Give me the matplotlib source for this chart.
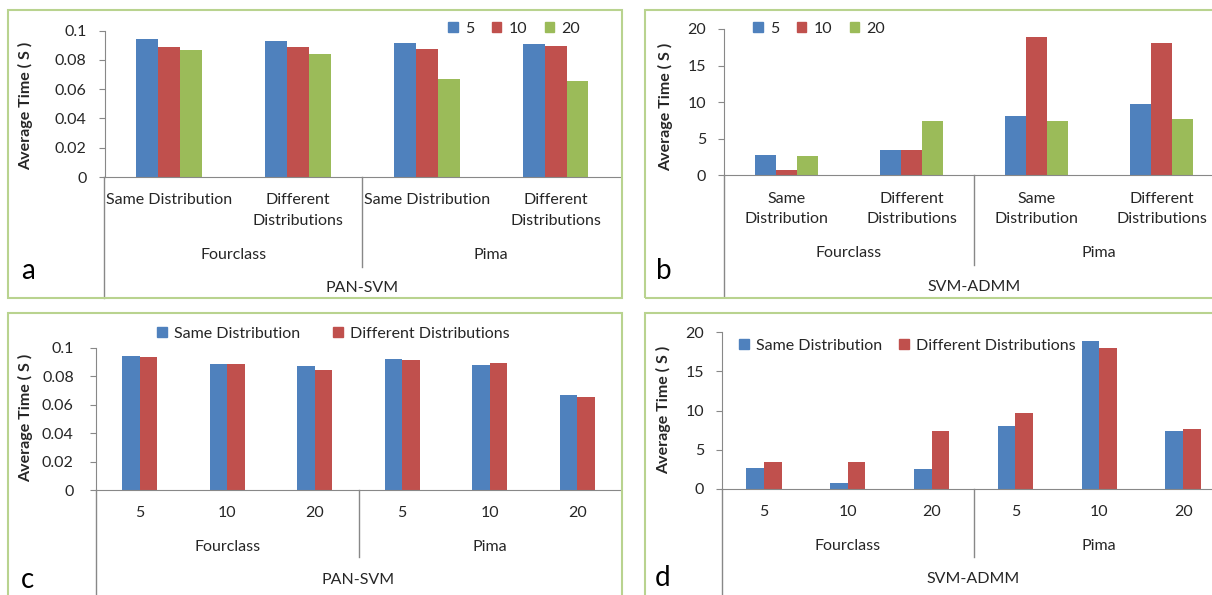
import matplotlib
matplotlib.use("Agg")
import matplotlib.pyplot as plt
from matplotlib.patches import Patch, Rectangle

plt.rcParams["font.family"] = ["Lato", "DejaVu Sans"]

# ─── DATA ─────────────────────────────────────────────────────────────────────
DATASETS = ["Fourclass", "Pima"]
SIZES = ["5", "10", "20"]
DISTS = ["Same Distribution", "Different Distributions"]

# PAN-SVM average time (s), per dataset, per number of nodes (5, 10, 20)
PAN_SAME_FOURCLASS = [0.0940, 0.0886, 0.0868]
PAN_DIFF_FOURCLASS = [0.0932, 0.0886, 0.0843]
PAN_SAME_PIMA = [0.0919, 0.0877, 0.0671]
PAN_DIFF_PIMA = [0.0912, 0.0895, 0.0656]

# SVM-ADMM average time (s)
ADMM_SAME_FOURCLASS = [2.70, 0.70, 2.55]
ADMM_DIFF_FOURCLASS = [3.40, 3.40, 7.40]
ADMM_SAME_PIMA = [8.05, 18.90, 7.40]
ADMM_DIFF_PIMA = [9.70, 18.05, 7.65]

# ─── STYLE ────────────────────────────────────────────────────────────────────
W, H = 1212, 595
BLUE, RED, GREEN = "#4F81BD", "#C0504D", "#9BBB59"
AXIS_GRAY = "#888888"
BORDER = "#B9D38F"
TXT = "#262626"
FS = 11.5


def px_rect(left, top, right, bottom):
    return [left / W, 1 - bottom / H, (right - left) / W, (bottom - top) / H]


def fx(x):
    return x / W


def fy(y):
    return 1 - y / H


def draw_panel(fig, rect, groups, series, colors, width, ymax, yticks, labels,
               sep_at, offs, method, letter, letter_xy, ylab_xy, legend):
    """groups: list of (dataset, label); series: list of value lists."""
    ax = fig.add_axes(px_rect(*rect))
    n = len(groups)
    k = len(series)
    xs = list(range(n))
    for i, (vals, col) in enumerate(zip(series, colors)):
        pos = [x + (i - (k - 1) / 2) * width for x in xs]
        ax.bar(pos, vals, width=width, color=col, edgecolor="none", label=labels[i])
    ax.set_xlim(-0.5, n - 0.5)
    ax.set_ylim(0, ymax)
    ax.set_yticks(yticks)
    ax.set_yticklabels([f"{v:g}" for v in yticks], fontsize=FS, color=TXT)
    ax.set_xticks([])
    for s in ["top", "right"]:
        ax.spines[s].set_visible(False)
    for s in ["left", "bottom"]:
        ax.spines[s].set_color(AXIS_GRAY)
    ax.tick_params(axis="y", length=4, color=AXIS_GRAY, pad=offs["pad"])

    h_px = (rect[3] - rect[1])
    tr = ax.get_xaxis_transform()
    # outer axis lines: left edge down to bottom, separator between datasets
    ax.plot([-0.5, -0.5], [0, -offs["left"] / h_px], transform=tr, color=AXIS_GRAY,
            lw=1, clip_on=False)
    ax.plot([sep_at, sep_at], [0, -offs["sep"] / h_px], transform=tr, color=AXIS_GRAY,
            lw=1, clip_on=False)

    def below(x, dy, text):
        ax.annotate(text, xy=(x, 0), xycoords=("data", "axes fraction"),
                    xytext=(0, -dy), textcoords="offset pixels",
                    ha="center", va="center", fontsize=FS, color=TXT)

    for x, (_, lab) in zip(xs, groups):
        for j, line in enumerate(lab.split("\n")):
            below(x, offs["l1"] + j * offs["step"], line)
    for d in DATASETS:
        idx = [x for x, g in zip(xs, groups) if g[0] == d]
        below(sum(idx) / len(idx), offs["l2"], d)
    below((n - 1) / 2, offs["l3"], method)

    fig.text(fx(letter_xy[0]), fy(letter_xy[1]), letter, fontsize=20,
             ha="center", va="center", color="black")
    fig.text(fx(ylab_xy[0]), fy(ylab_xy[1]), "Average Time ( S )", rotation=90,
             fontsize=11.5, fontweight="bold", ha="center", va="center", color=TXT)

    handles = [Patch(color=c) for c in colors]
    ax.legend(handles, labels, loc="center left",
              bbox_to_anchor=(fx(legend["x"]), fy(legend["y"])),
              bbox_transform=fig.transFigure, ncol=len(labels), frameon=False,
              fontsize=FS, handlelength=0.6, handleheight=0.6, handletextpad=0.45,
              columnspacing=legend["cs"], borderpad=0, borderaxespad=0,
              labelcolor=TXT)
    return ax


fig = plt.figure(figsize=(W / 100, H / 100), dpi=100)

# panel borders
for (l, t, r, b) in [(8, 10, 622, 298), (645, 10, 1230, 298),
                     (8, 313, 622, 610), (645, 313, 1230, 610)]:
    fig.patches.append(Rectangle((fx(l), fy(b)), (r - l) / W, (b - t) / H,
                                 transform=fig.transFigure, fill=False,
                                 edgecolor=BORDER, lw=1.5))

# a / b: grouped by (dataset, distribution), bars per number of nodes
ab_groups = [("Fourclass", "Same Distribution"),
             ("Fourclass", "Different\nDistributions"),
             ("Pima", "Same Distribution"),
             ("Pima", "Different\nDistributions")]
pan_by_size = [[PAN_SAME_FOURCLASS[i], PAN_DIFF_FOURCLASS[i],
                PAN_SAME_PIMA[i], PAN_DIFF_PIMA[i]] for i in range(3)]
admm_by_size = [[ADMM_SAME_FOURCLASS[i], ADMM_DIFF_FOURCLASS[i],
                 ADMM_SAME_PIMA[i], ADMM_DIFF_PIMA[i]] for i in range(3)]

draw_panel(fig, (104.5, 30.7, 620, 177), ab_groups, pan_by_size, [BLUE, RED, GREEN],
           0.17, 0.1, [0, 0.02, 0.04, 0.06, 0.08, 0.1], SIZES, 1.5,
           dict(left=121, sep=90, l1=23, step=21, l2=78, l3=111, pad=9),
           "PAN-SVM", "a", (28, 271), (26, 106),
           dict(x=448, y=29, cs=1.1))

b_groups = [("Fourclass", "Same\nDistribution"),
            ("Fourclass", "Different\nDistributions"),
            ("Pima", "Same\nDistribution"),
            ("Pima", "Different\nDistributions")]
draw_panel(fig, (724, 29, 1224, 175), b_groups, admm_by_size, [BLUE, RED, GREEN],
           0.168, 20, [0, 5, 10, 15, 20], SIZES, 1.5,
           dict(left=121, sep=90, l1=24, step=20, l2=78, l3=112, pad=9),
           "SVM-ADMM", "b", (664, 271), (666, 107),
           dict(x=753, y=29, cs=1.1))

# c / d: grouped by (dataset, number of nodes), bars per distribution
cd_groups = [(d, s) for d in DATASETS for s in SIZES]
pan_by_dist = [PAN_SAME_FOURCLASS + PAN_SAME_PIMA, PAN_DIFF_FOURCLASS + PAN_DIFF_PIMA]
admm_by_dist = [ADMM_SAME_FOURCLASS + ADMM_SAME_PIMA, ADMM_DIFF_FOURCLASS + ADMM_DIFF_PIMA]

draw_panel(fig, (96, 347.7, 621, 490), cd_groups, pan_by_dist, [BLUE, RED],
           0.2, 0.1, [0, 0.02, 0.04, 0.06, 0.08, 0.1], DISTS, 2.5,
           dict(left=110, sep=67, l1=23, step=20, l2=57, l3=90, pad=12),
           "PAN-SVM", "c", (27, 580), (26, 418),
           dict(x=157, y=334, cs=2.1))

draw_panel(fig, (722, 332.3, 1225, 488.7), cd_groups, admm_by_dist, [BLUE, RED],
           0.21, 20, [0, 5, 10, 15, 20], DISTS, 2.5,
           dict(left=110, sep=68, l1=23, step=20, l2=57, l3=90, pad=9),
           "SVM-ADMM", "d", (663, 578), (664, 410),
           dict(x=739, y=346, cs=1.1))

fig.savefig("out.png", dpi=100)
